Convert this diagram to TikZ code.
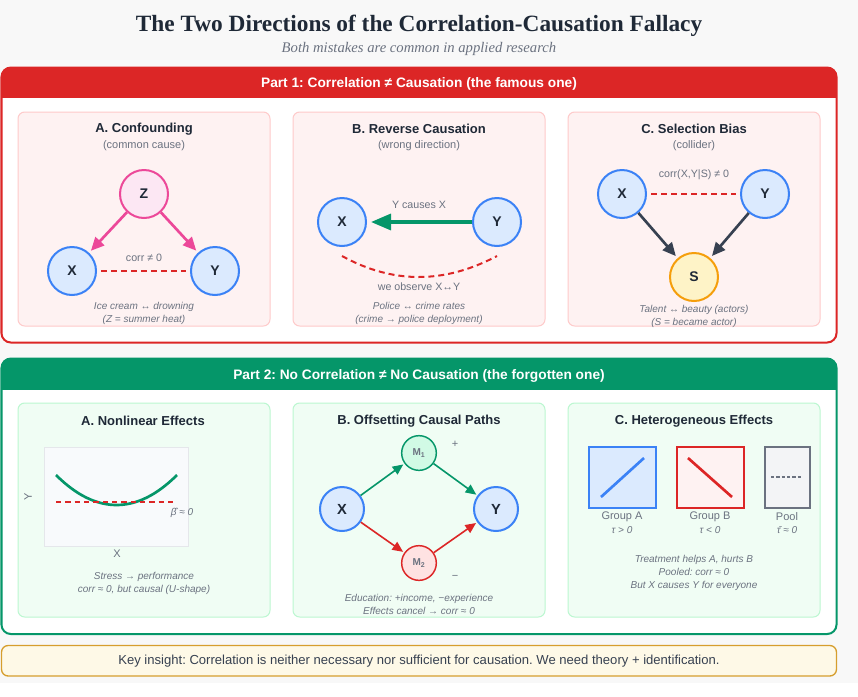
\documentclass[tikz,border=0pt]{standalone}
\usepackage{fontspec}
\setmainfont{Liberation Sans}
\newfontfamily\seriffont{Liberation Serif}
\usetikzlibrary{arrows.meta,positioning,calc}

\definecolor{cred}{HTML}{DC2626}
\definecolor{cgreen}{HTML}{059669}
\definecolor{cblue}{HTML}{3B82F6}
\definecolor{cbluebg}{HTML}{DBEAFE}
\definecolor{cpink}{HTML}{EC4899}
\definecolor{cpinkbg}{HTML}{FCE7F3}
\definecolor{camber}{HTML}{F59E0B}
\definecolor{camberbg}{HTML}{FEF3C7}
\definecolor{cdark}{HTML}{1F2937}
\definecolor{cslate}{HTML}{374151}
\definecolor{cgray}{HTML}{6B7280}
\definecolor{credbg}{HTML}{FEF2F2}
\definecolor{credline}{HTML}{FECACA}
\definecolor{credmid}{HTML}{FEE2E2}
\definecolor{cgreenbg}{HTML}{F0FDF4}
\definecolor{cgreenline}{HTML}{BBF7D0}
\definecolor{cgreenmid}{HTML}{D1FAE5}
\definecolor{cplot}{HTML}{F8FAFC}
\definecolor{cplotline}{HTML}{E5E7EB}
\definecolor{cpool}{HTML}{F3F4F6}
\definecolor{cpage}{HTML}{F8F8F8}
\definecolor{cnote}{HTML}{FEF9E7}
\definecolor{cnoteline}{HTML}{D69E2E}

\begin{document}
\frenchspacing
\begin{tikzpicture}[x=0.75pt, y=-0.75pt,
    var/.style={circle, draw=cblue, fill=cbluebg, line width=1.5pt, minimum size=36pt, inner sep=0pt, text=cdark, font=\bfseries\fontsize{10.5}{12}\selectfont},
    med/.style={circle, line width=1.1pt, minimum size=26pt, inner sep=0pt, text=cgray, font=\bfseries\fontsize{7.5}{9}\selectfont},
    panel/.style={rounded corners=5pt, line width=0.75pt},
    ptitle/.style={text=cdark, font=\bfseries\fontsize{9.75}{11}\selectfont},
    psub/.style={text=cgray, font=\fontsize{8.25}{10}\selectfont},
    note/.style={text=cgray, font=\itshape\fontsize{7.5}{9.75}\selectfont, align=center},
    header/.style={text=white, font=\bfseries\fontsize{10.3}{12}\selectfont},
    corr/.style={cred, dash pattern=on 4.5pt off 3pt, line width=1.5pt, shorten <=3pt, shorten >=3pt},
    cause/.style={line width=2pt, -{Triangle[length=10pt,width=9pt]}, shorten >=2pt},
    route/.style={line width=1.2pt, -{Triangle[length=8pt,width=7pt]}, shorten >=1pt},
    grp/.style={rectangle, line width=1.1pt, minimum width=50pt, minimum height=46pt, inner sep=0pt}
]
    % Page
    \fill[cpage] (0,0) rectangle (858,683);
    \useasboundingbox (0,0) rectangle (858,697);

    % Title
    \node[font=\seriffont\bfseries\fontsize{17.5}{20}\selectfont, text=cdark] (title) at (419,26) {The Two Directions of the Correlation-Causation Fallacy};
    \node[font=\seriffont\itshape\fontsize{11}{13}\selectfont, text=cgray] (subtitle) at (419,49) {Both mistakes are common in applied research};

    % Part 1
    \fill[white, rounded corners=7pt] (1.5,67.5) rectangle (836.5,342.5);
    \begin{scope}
        \clip[rounded corners=7pt] (1.5,67.5) rectangle (836.5,342.5);
        \fill[cred] (1.5,67.5) rectangle (836.5,98);
    \end{scope}
    \draw[cred, line width=1.5pt, rounded corners=7pt] (1.5,67.5) rectangle (836.5,342.5);
    \node[header] (head1) at (419,84) {Part 1: Correlation ≠ Causation (the famous one)};

    \draw[panel, draw=credline, fill=credbg] (18,112) rectangle (270,326);
    \draw[panel, draw=credline, fill=credbg] (293,112) rectangle (545,326);
    \draw[panel, draw=credline, fill=credbg] (568,112) rectangle (820,326);

    % A. Confounding
    \node[ptitle] (aTitle) at (144,129) {A. Confounding};
    \node[psub] (aSub) at (144,146) {(common cause)};
    \node[var, draw=cpink, fill=cpinkbg] (aZ) at (144,194) {Z};
    \node[var] (aX) at (72,271) {X};
    \node[var] (aY) at (215,271) {Y};
    \draw[cause, cpink] (aZ) -- (aX);
    \draw[cause, cpink] (aZ) -- (aY);
    \draw[corr] (aX) -- (aY);
    \node[psub, font=\fontsize{8}{10}\selectfont] (aCorr) at (144,258) {corr ≠ 0};
    \node[note] (aNote) at (144,313) {Ice cream ↔ drowning\\(Z = summer heat)};

    % B. Reverse causation
    \node[ptitle] (bTitle) at (419,129) {B. Reverse Causation};
    \node[psub] (bSub) at (419,146) {(wrong direction)};
    \node[var] (bX) at (342,222) {X};
    \node[var] (bY) at (497,222) {Y};
    \draw[cgreen, line width=2.5pt, -{Triangle[length=15pt,width=12pt]}, shorten >=3pt] (bY) -- (bX);
    \node[psub, font=\fontsize{8}{10}\selectfont] (bCause) at (419,205) {Y causes X};
    \draw[cred, dash pattern=on 4.5pt off 3pt, line width=1.5pt] ($(bX.south)+(0,9)$) .. controls (393,284) and (444,284) .. ($(bY.south)+(0,9)$);
    \node[psub, font=\fontsize{8}{10}\selectfont] (bObs) at (419,287) {we observe X↔Y};
    \node[note] (bNote) at (419,313) {Police ↔ crime rates\\(crime → police deployment)};

    % C. Selection bias
    \node[ptitle] (cTitle) at (694,129) {C. Selection Bias};
    \node[psub] (cSub) at (694,146) {(collider)};
    \node[var] (cX) at (622,194) {X};
    \node[var] (cY) at (765,194) {Y};
    \node[var, draw=camber, fill=camberbg] (cS) at (694,277) {S};
    \node[psub, font=\fontsize{8}{10}\selectfont] (cCorr) at (694,175) {corr(X,Y|S) ≠ 0};
    \draw[corr] (cX) -- (cY);
    \draw[cause, cslate] (cX) -- (cS);
    \draw[cause, cslate] (cY) -- (cS);
    \node[note] (cNote) at (694,316) {Talent ↔ beauty (actors)\\(S = became actor)};

    % Part 2
    \fill[white, rounded corners=7pt] (1.5,358.5) rectangle (836.5,634);
    \begin{scope}
        \clip[rounded corners=7pt] (1.5,358.5) rectangle (836.5,634);
        \fill[cgreen] (1.5,358.5) rectangle (836.5,390);
    \end{scope}
    \draw[cgreen, line width=1.5pt, rounded corners=7pt] (1.5,358.5) rectangle (836.5,634);
    \node[header] (head2) at (419,376) {Part 2: No Correlation ≠ No Causation (the forgotten one)};

    \draw[panel, draw=cgreenline, fill=cgreenbg] (18,403) rectangle (270,617);
    \draw[panel, draw=cgreenline, fill=cgreenbg] (293,403) rectangle (545,617);
    \draw[panel, draw=cgreenline, fill=cgreenbg] (568,403) rectangle (820,617);

    % A. Nonlinear effects
    \node[ptitle] (nTitle) at (143,421) {A. Nonlinear Effects};
    \draw[fill=cplot, draw=cplotline, line width=0.75pt] (44,447) rectangle (188,546);
    \draw[cgreen, line width=2pt] (56,475) .. controls (96,515) and (137,515) .. (177,475);
    \draw[cred, dash pattern=on 4pt off 3pt, line width=1.2pt] (56,502) -- (177,502);
    \node[note] (nBeta) at (182,513) {β̂ ≈ 0};
    \node[psub, rotate=90] (nYlab) at (28,497) {Y};
    \node[psub] (nXlab) at (117,554) {X};
    \node[note] (nNote) at (144,583.5) {Stress → performance\\corr ≈ 0, but causal (U-shape)};

    % B. Offsetting paths
    \node[ptitle] (oTitle) at (419,421) {B. Offsetting Causal Paths};
    \node[med, draw=cgreen, fill=cgreenmid] (m1) at (419,453) {M\textsubscript{1}};
    \node[med, draw=cred, fill=credmid] (m2) at (419,563) {M\textsubscript{2}};
    \node[var, minimum size=33pt, font=\bfseries\fontsize{11}{12}\selectfont] (oX) at (342,509) {X};
    \node[var, minimum size=33pt, font=\bfseries\fontsize{11}{12}\selectfont] (oY) at (496,509) {Y};
    \draw[route, cgreen] (oX) -- (m1);
    \draw[route, cgreen] (m1) -- (oY);
    \draw[route, cred] (oX) -- (m2);
    \draw[route, cred] (m2) -- (oY);
    \node[psub] (oPlus) at (455,444) {+};
    \node[psub] (oMinus) at (455,577) {−};
    \node[note] (oNote) at (419,604.5) {Education: +income, −experience\\Effects cancel → corr ≈ 0};

    % C. Heterogeneous effects
    \node[ptitle] (hTitle) at (694,421) {C. Heterogeneous Effects};
    \node[grp, draw=cblue, fill=cbluebg] (gA) at (622.5,477.5) {};
    \node[grp, draw=cred, fill=credbg] (gB) at (710.5,477.5) {};
    \node[grp, draw=cgray, fill=cpool, minimum width=34pt] (gP) at (787.5,477.5) {};
    \draw[cblue, line width=2pt] (601,497) -- (644,458);
    \draw[cred, line width=2pt] (688,458) -- (732,497);
    \draw[cgray, dash pattern=on 2.5pt off 1.5pt, line width=1.2pt] (771,477) -- (802,477);
    \node[psub] (gAlab) at (622,517) {Group A};
    \node[psub] (gBlab) at (710,517) {Group B};
    \node[psub] (gPlab) at (787,517) {Pool};
    \node[note] (gAtau) at (622,530) {τ > 0};
    \node[note] (gBtau) at (710,530) {τ < 0};
    \node[note] (gPtau) at (787,530) {τ̄ ≈ 0};
    \node[note] (hNote) at (694,572.5) {Treatment helps A, hurts B\\Pooled: corr ≈ 0\\But X causes Y for everyone};

    % Key insight
    \draw[draw=cnoteline, fill=cnote, line width=1pt, rounded corners=5pt] (1.5,645.5) rectangle (836.5,676);
    \node[text=cslate, font=\fontsize{9.8}{12}\selectfont] (insight) at (419,661) {Key insight: Correlation is neither necessary nor sufficient for causation. We need theory + identification.};
\end{tikzpicture}
\end{document}
